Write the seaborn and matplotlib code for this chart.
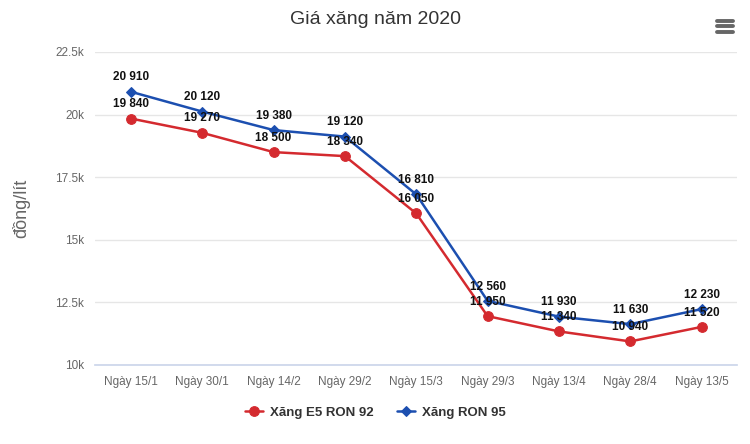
import numpy as np
import pandas as pd
import matplotlib
matplotlib.use("Agg")
import matplotlib.pyplot as plt
from matplotlib.lines import Line2D
import seaborn as sns

# data
dates = ["Ngày 15/1", "Ngày 30/1", "Ngày 14/2", "Ngày 29/2", "Ngày 15/3",
         "Ngày 29/3", "Ngày 13/4", "Ngày 28/4", "Ngày 13/5"]
e5_ron92 = [19840, 19270, 18500, 18340, 16050, 11950, 11340, 10940, 11520]
ron95 = [20910, 20120, 19380, 19120, 16810, 12560, 11930, 11630, 12230]
series_names = ["Xăng E5 RON 92", "Xăng RON 95"]
y_ticks = [10000, 12500, 15000, 17500, 20000, 22500]

colors = {"Xăng E5 RON 92": "#d42a2f", "Xăng RON 95": "#1c4fb0"}
markers = {"Xăng E5 RON 92": "o", "Xăng RON 95": "D"}

df = pd.DataFrame({
    "date": dates * 2,
    "x": list(range(len(dates))) * 2,
    "price": e5_ron92 + ron95,
    "series": [series_names[0]] * len(dates) + [series_names[1]] * len(dates),
})

sns.set_theme(style="white")
plt.rcParams["font.family"] = ["Liberation Sans", "DejaVu Sans"]

fig = plt.figure(figsize=(7.5, 4.44), dpi=100)
ax = fig.add_axes([0.127, 0.178, 0.856, 0.705])

for name in series_names:
    sub = df[df["series"] == name]
    sns.lineplot(data=sub, x="x", y="price", ax=ax, color=colors[name],
                 marker=markers[name], markersize=7 if markers[name] == "o" else 5,
                 markeredgecolor=colors[name], linewidth=1.8, label=name)
    for xi, v in zip(sub["x"], sub["price"]):
        ax.annotate(f"{v:,}".replace(",", " "), (xi, v), xytext=(0, 6),
                    textcoords="offset points", ha="center", va="bottom",
                    fontsize=8.5, fontweight="bold", color="#111111")

ax.set_xlim(-0.5, len(dates) - 0.5)
ax.set_ylim(10000, 22500)
ax.set_xticks(range(len(dates)))
ax.set_xticklabels(dates, fontsize=8.5, color="#666666")
ax.set_yticks(y_ticks)
ax.set_yticklabels([f"{t / 1000:g}k" for t in y_ticks], fontsize=8.5, color="#666666")
ax.tick_params(axis="both", length=0, pad=8)
ax.grid(axis="y", color="#e6e6e6", linewidth=1)
ax.set_axisbelow(True)
for s in ["top", "right", "left"]:
    ax.spines[s].set_visible(False)
ax.spines["bottom"].set_color("#ccd6eb")
ax.set_xlabel("")
ax.set_ylabel("đồng/lít", fontsize=13, color="#666666", labelpad=18)

fig.text(0.5, 0.955, "Giá xăng năm 2020", ha="center", va="center",
         fontsize=14, color="#333333")

leg = ax.legend(loc="center", bbox_to_anchor=(0.436, -0.153), ncol=2,
                frameon=False, fontsize=9.5, handlelength=1.4, handletextpad=0.5,
                columnspacing=1.8)
for t in leg.get_texts():
    t.set_fontweight("bold")
    t.set_color("#333333")

# menu icon
for yy in [0.953, 0.941, 0.929]:
    fig.add_artist(Line2D([0.956, 0.977], [yy, yy], color="#666666", linewidth=2.8,
                          solid_capstyle="round"))

fig.savefig("out.png", dpi=100)
